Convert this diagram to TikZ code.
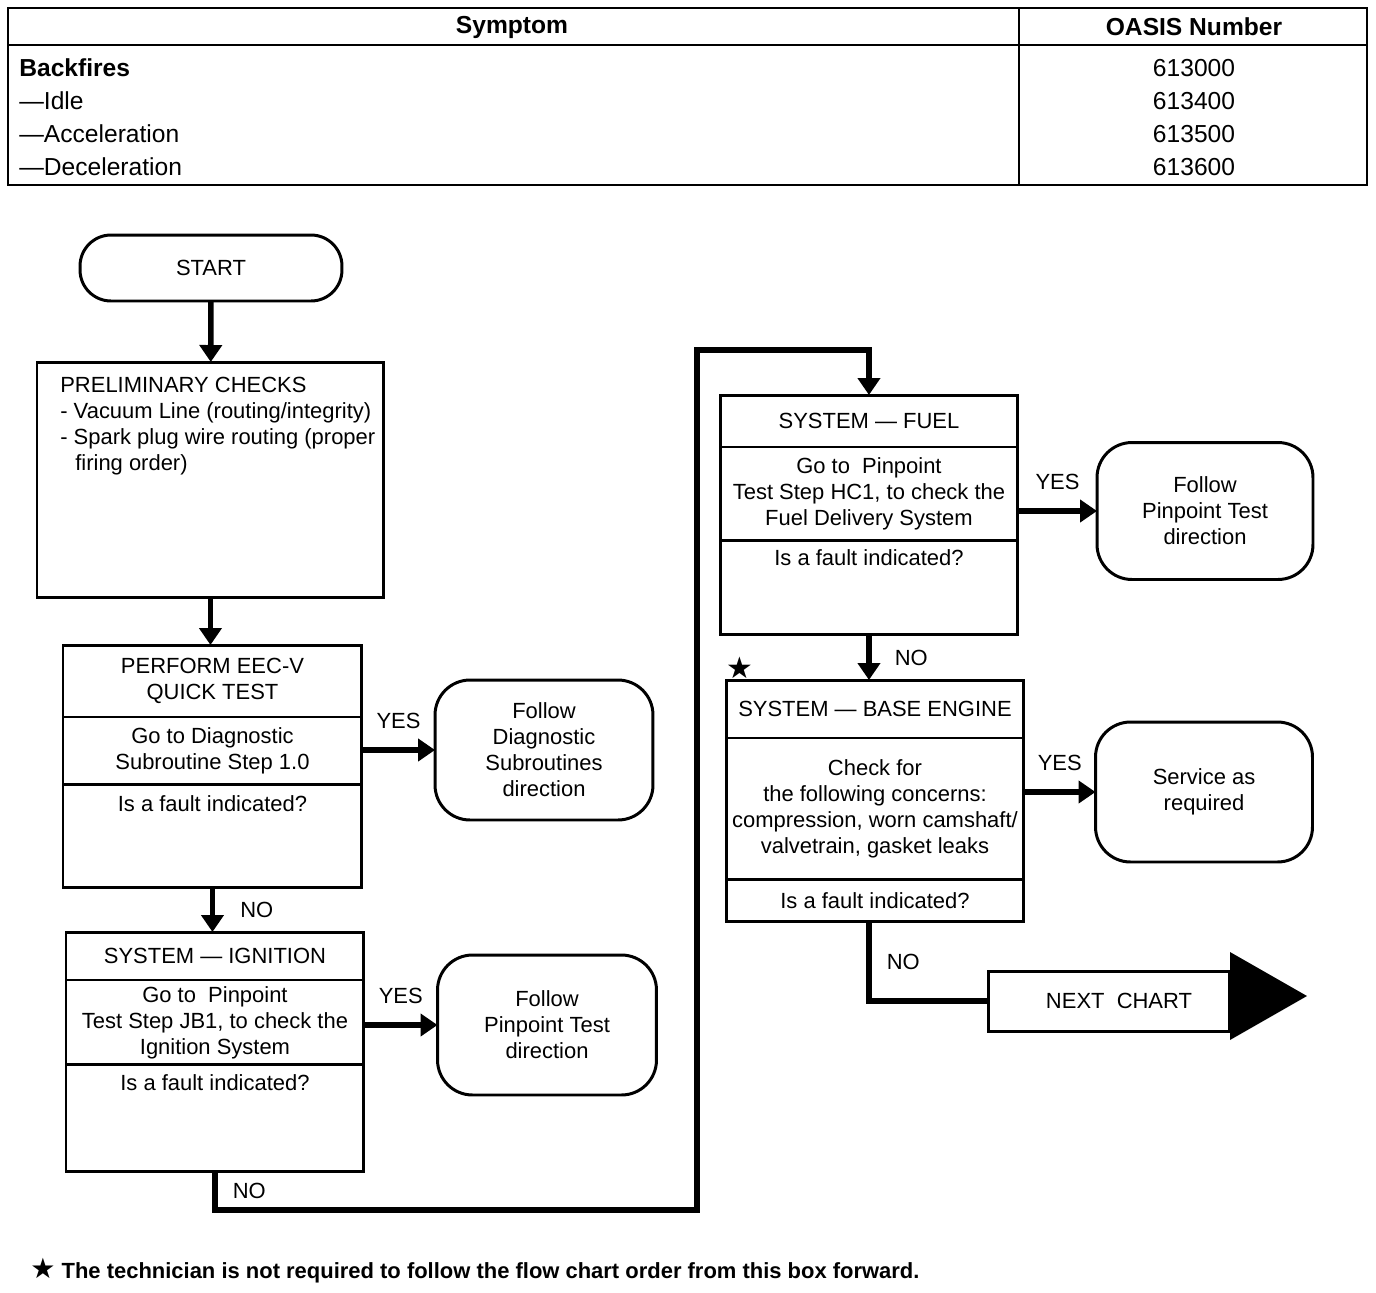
\documentclass[tikz,border=0pt]{standalone}
\usepackage{fontspec}
\setmainfont{Liberation Sans}
\newfontfamily\symbolfont{DejaVu Sans}
\usetikzlibrary{arrows.meta,positioning}
\newcommand\tblfont{\fontsize{14}{16}\selectfont}

\begin{document}
\begin{tikzpicture}[x=0.02cm, y=-0.02cm,
      font=\fontsize{12.5}{14.8}\selectfont,
      tblrule/.style={line width=1.2pt},
      flowbox/.style={draw, line width=1.7pt, outer sep=0pt, inner sep=2pt, align=center},
      termbox/.style={draw, line width=1.7pt, outer sep=0pt, rounded corners=0.7cm, align=center},
      flowline/.style={line width=3.2pt},
      flowarrow/.style={flowline, -{Triangle[length=0.34cm, width=0.44cm]}},
      lbl/.style={inner sep=0pt}]
    \fill[white] (0,0) rectangle (1376,1292);
    \useasboundingbox (0,0) rectangle (1376,1292);

    % symptom table
    \draw[tblrule] (8,8) rectangle (1367,185);
    \draw[tblrule] (8,45) -- (1367,45);
    \draw[tblrule] (1019,8) -- (1019,185);
    \node[font=\tblfont\bfseries] (symhead) at (512,27) {Symptom};
    \node[font=\tblfont\bfseries] (oasishead) at (1194,27) {OASIS Number};
    \foreach \y/\sym/\num [count=\i] in {68/\textbf{Backfires}/613000, 101/---Idle/613400,
        134/---Acceleration/613500, 167/---Deceleration/613600} {
      \node[font=\tblfont, lbl, anchor=west] (sym\i) at (19,\y) {\sym};
      \node[font=\tblfont] (num\i) at (1194,\y) {\num};
    }

    % left column
    \node[termbox, minimum width=5.24cm, minimum height=1.32cm, rounded corners=0.62cm] (start) at (211,268) {START};
    \node[flowbox, minimum width=6.94cm, minimum height=4.72cm, anchor=north west] (prelim) at (37,362) {};
    \node[lbl, anchor=north west, align=left] (prelimtxt) at ([xshift=0.46cm, yshift=-0.3cm]prelim.north west)
      {PRELIMINARY CHECKS\\- Vacuum Line (routing/integrity)\\- Spark plug wire routing (proper\\\hspace*{0.3cm}firing order)};

    \node[flowbox, minimum width=5.98cm, minimum height=1.44cm, anchor=north west] (eectitle) at (63,645) {PERFORM EEC-V\\QUICK TEST};
    \node[flowbox, minimum width=5.98cm, minimum height=1.36cm, anchor=north] (eecbody) at (eectitle.south) {Go to Diagnostic\\Subroutine Step 1.0};
    \node[flowbox, minimum width=5.98cm, minimum height=2.06cm, anchor=north] (eecq) at (eecbody.south) {};
    \node (eecqtxt) at ([yshift=-0.38cm]eecq.north) {Is a fault indicated?};
    \node[termbox, minimum width=4.36cm, minimum height=2.8cm] (diagfollow) at (544,750) {Follow\\Diagnostic\\Subroutines\\direction};

    \node[flowbox, minimum width=5.96cm, minimum height=0.96cm, anchor=north west] (igntitle) at (66,932) {SYSTEM --- IGNITION};
    \node[flowbox, minimum width=5.96cm, minimum height=1.7cm, anchor=north] (ignbody) at (igntitle.south) {Go to\ \ Pinpoint\\Test Step JB1, to check the\\Ignition System};
    \node[flowbox, minimum width=5.96cm, minimum height=2.14cm, anchor=north] (ignq) at (ignbody.south) {};
    \node (ignqtxt) at ([yshift=-0.36cm]ignq.north) {Is a fault indicated?};
    \node[termbox, minimum width=4.38cm, minimum height=2.8cm] (ignfollow) at (547,1025) {Follow\\Pinpoint Test\\direction};

    % right column
    \node[flowbox, minimum width=5.96cm, minimum height=1.04cm, anchor=north west] (fueltitle) at (720,395) {SYSTEM --- FUEL};
    \node[flowbox, minimum width=5.96cm, minimum height=1.88cm, anchor=north] (fuelbody) at (fueltitle.south) {Go to\ \ Pinpoint\\Test Step HC1, to check the\\Fuel Delivery System};
    \node[flowbox, minimum width=5.96cm, minimum height=1.88cm, anchor=north] (fuelq) at (fuelbody.south) {};
    \node (fuelqtxt) at ([yshift=-0.34cm]fuelq.north) {Is a fault indicated?};
    \node[termbox, minimum width=4.32cm, minimum height=2.74cm] (fuelfollow) at (1205,511) {Follow\\Pinpoint Test\\direction};

    \node[font=\symbolfont\fontsize{17}{17}\selectfont, lbl] (star) at (740,668) {★};
    \node[flowbox, minimum width=5.96cm, minimum height=1.16cm, anchor=north west] (basetitle) at (726,680) {SYSTEM --- BASE ENGINE};
    \node[flowbox, minimum width=5.96cm, minimum height=2.84cm, anchor=north] (basebody) at (basetitle.south) {Check for\\the following concerns:\\compression, worn camshaft/\\valvetrain, gasket leaks};
    \node[flowbox, minimum width=5.96cm, minimum height=0.84cm, anchor=north] (baseq) at (basebody.south) {Is a fault indicated?};
    \node[termbox, minimum width=4.34cm, minimum height=2.8cm] (service) at (1204,792) {Service as\\required};

    \node[draw, line width=1.7pt, outer sep=0pt, minimum width=4.82cm, minimum height=1.2cm] (nextbox) at (1109,1001) {\hspace{0.4cm}NEXT\ \ CHART};
    \fill (1230,952) -- (1307,996) -- (1230,1040) -- cycle;

    % connectors
    \coordinate (loopbot) at (697,1210);
    \coordinate (looptop) at (697,350);
    \draw[flowarrow] (start) -- (prelim);
    \draw[flowarrow] (prelim.south) -- (prelim.south |- eectitle.north);
    \draw[flowarrow] (eecbody.east |- diagfollow.west) -- (diagfollow.west) node[lbl, midway, above=0.36cm] (yes1) {YES};
    \draw[flowarrow] (eecq.south) -- (eecq.south |- igntitle.north) node[lbl, midway, right=0.5cm] (no1) {NO};
    \draw[flowarrow] (ignbody.east |- ignfollow.west) -- (ignfollow.west) node[lbl, midway, above=0.36cm] (yes2) {YES};
    \draw[flowarrow] (ignq.south) |- (loopbot) node[lbl, pos=0.25, right=0.3cm] (no2) {NO} -- (looptop) -| (fueltitle.north);
    \draw[flowarrow] (fuelbody.east |- fuelfollow.west) -- (fuelfollow.west) node[lbl, midway, above=0.36cm] (yes3) {YES};
    \draw[flowarrow] (fuelq.south) -- (fuelq.south |- basetitle.north) node[lbl, midway, right=0.46cm] (no3) {NO};
    \draw[flowarrow] (basebody.east |- service.west) -- (service.west) node[lbl, midway, above=0.36cm] (yes4) {YES};
    \draw[flowline] (fuelq.south |- baseq.south) |- (nextbox.west) node[lbl, pos=0.25, right=0.3cm] (no4) {NO};

    \node[lbl, anchor=west, font=\fontsize{12.5}{14}\selectfont\bfseries] (footnote) at (30,1271)
      {{\symbolfont\mdseries\fontsize{16}{16}\selectfont ★} The technician is not required to follow the flow chart order from this box forward.};
  \end{tikzpicture}
\end{document}
